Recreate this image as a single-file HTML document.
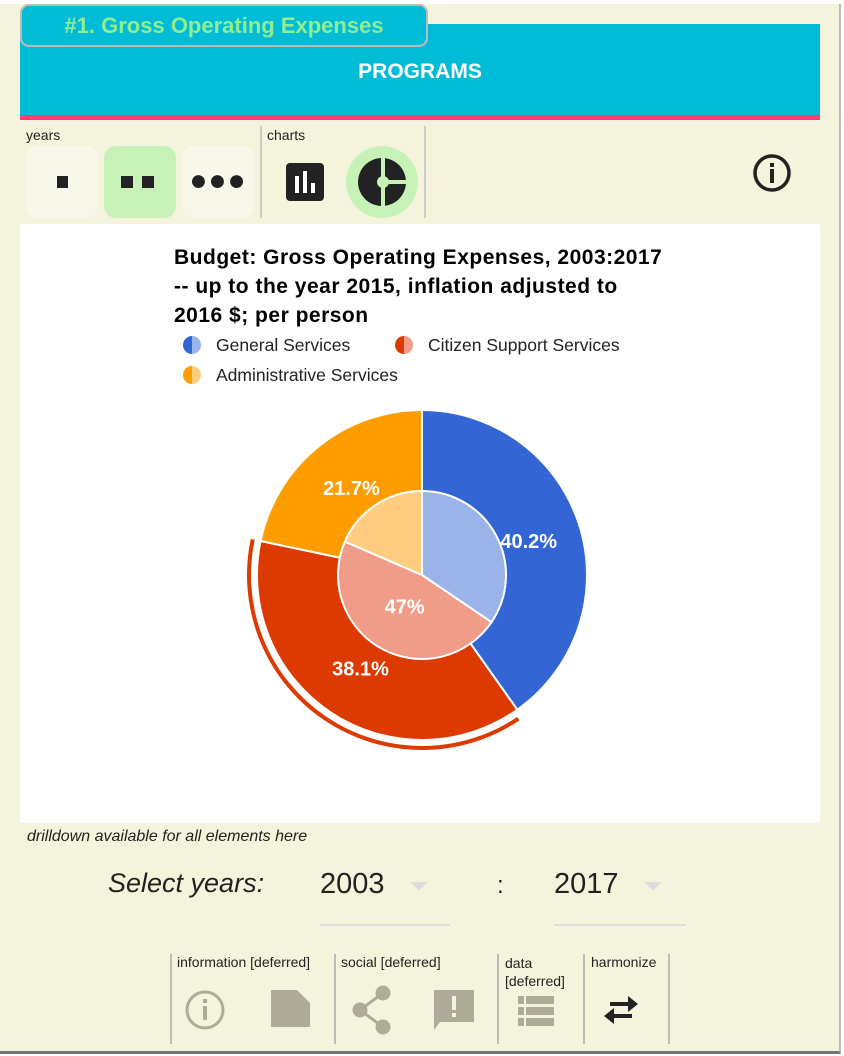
<!DOCTYPE html>
<html><head><meta charset="utf-8"><style>
*{box-sizing:border-box;margin:0;padding:0}
body{width:844px;height:1056px;background:#fff;font-family:"Liberation Sans",sans-serif;position:relative;overflow:hidden}
.abs{position:absolute}
</style></head><body>
<div class="abs" style="left:0;top:4px;width:841px;height:1050px;background:#f4f4dc;border-right:2px solid #bbb;border-bottom:3px solid #777"></div>
<div class="abs" style="left:20px;top:24px;width:800px;height:91px;background:#00bcd6"></div>
<div class="abs" style="left:20px;top:115px;width:800px;height:5px;background:#ff3c78"></div>
<div class="abs" style="left:20px;top:60px;width:800px;text-align:center;color:#fff;font-weight:bold;font-size:21px">PROGRAMS</div>
<div class="abs" style="left:20px;top:4px;width:408px;height:43px;background:#00bcd6;border:2px solid #bbb;border-radius:9px;color:#90ee90;font-weight:bold;font-size:22px;text-align:center;line-height:39px">#1. Gross Operating Expenses</div>

<div class="abs" style="left:26px;top:127px;font-size:14px;color:#222">years</div>
<div class="abs" style="left:267px;top:127px;font-size:14px;color:#222">charts</div>
<div class="abs" style="left:260px;top:126px;width:2px;height:92px;background:#ccc"></div>
<div class="abs" style="left:424px;top:126px;width:2px;height:92px;background:#ccc"></div>
<div class="abs" style="left:26px;top:146px;width:72px;height:72px;background:#f8f8ea;border-radius:12px"><div style="position:absolute;left:31px;top:30px;width:11px;height:12px;background:#222"></div></div>
<div class="abs" style="left:104px;top:146px;width:72px;height:72px;background:#c6f2b8;border-radius:12px"><div style="position:absolute;left:17px;top:30px;width:12px;height:12px;background:#222"></div><div style="position:absolute;left:38px;top:30px;width:12px;height:12px;background:#222"></div></div>
<div class="abs" style="left:182px;top:146px;width:72px;height:72px;background:#f8f8ea;border-radius:12px;text-align:center;font-size:30px;line-height:70px;color:#222;letter-spacing:1px">●●●</div>
<div class="abs" style="left:286px;top:163px;width:38px;height:38px;background:#222;border-radius:4px"><div style="position:absolute;left:9px;top:13px;width:4px;height:17px;background:#fff"></div><div style="position:absolute;left:17px;top:8px;width:4px;height:22px;background:#fff"></div><div style="position:absolute;left:25px;top:20px;width:4px;height:10px;background:#fff"></div></div>
<div class="abs" style="left:346px;top:146px;width:72px;height:72px;background:#c6f2b8;border-radius:50%">
<svg width="72" height="72"><circle cx="36" cy="36" r="24" fill="#222"/><rect x="35" y="10" width="4" height="52" fill="#c6f2b8"/><rect x="37" y="34" width="26" height="4" fill="#c6f2b8"/><circle cx="37" cy="36" r="6" fill="#c6f2b8"/></svg></div>
<div class="abs" style="left:752px;top:153px;width:40px;height:40px"><svg width="40" height="40"><circle cx="20" cy="20" r="17" fill="none" stroke="#222" stroke-width="3.5"/><rect x="18" y="16" width="4" height="14" fill="#222"/><rect x="18" y="10" width="4" height="4" fill="#222"/></svg></div>

<div class="abs" style="left:20px;top:224px;width:800px;height:599px;background:#fff"></div>
<div class="abs" style="left:174px;top:243px;font-size:21px;letter-spacing:0.5px;font-weight:bold;line-height:29px;color:#000;white-space:nowrap">Budget: Gross Operating Expenses, 2003:2017<br>-- up to the year 2015, inflation adjusted to<br>2016 $; per person</div>
<svg class="abs" style="left:0;top:0" width="844" height="1056" id="chart"></svg>

<div class="abs" style="left:27px;top:828px;font-size:16px;font-style:italic;color:#222">drilldown available for all elements here</div>
<div class="abs" style="left:108px;top:868px;font-size:27px;font-style:italic;color:#222">Select years:</div>
<div class="abs" style="left:320px;top:868px;width:130px;height:58px;border-bottom:2px solid #ddd;font-size:29px;color:#222">2003<span style="position:absolute;left:90px;top:14px;border-left:9px solid transparent;border-right:9px solid transparent;border-top:9px solid #ddd"></span></div>
<div class="abs" style="left:497px;top:872px;font-size:24px;color:#222">:</div>
<div class="abs" style="left:554px;top:868px;width:132px;height:58px;border-bottom:2px solid #ddd;font-size:29px;color:#222">2017<span style="position:absolute;left:90px;top:14px;border-left:9px solid transparent;border-right:9px solid transparent;border-top:9px solid #ddd"></span></div>

<div class="abs" style="left:170px;top:954px;width:2px;height:90px;background:#bbb"></div>
<div class="abs" style="left:334px;top:954px;width:2px;height:90px;background:#bbb"></div>
<div class="abs" style="left:497px;top:954px;width:2px;height:90px;background:#bbb"></div>
<div class="abs" style="left:583px;top:954px;width:2px;height:90px;background:#bbb"></div>
<div class="abs" style="left:668px;top:954px;width:2px;height:90px;background:#bbb"></div>
<div class="abs" style="left:177px;top:954px;font-size:14px;color:#222">information [deferred]</div>
<div class="abs" style="left:341px;top:954px;font-size:14px;color:#222">social [deferred]</div>
<div class="abs" style="left:505px;top:954px;font-size:14px;line-height:18px;color:#222">data<br>[deferred]</div>
<div class="abs" style="left:591px;top:954px;font-size:14px;color:#222">harmonize</div>
<svg class="abs" style="left:0;top:0" width="844" height="1056">
<g><circle cx="205" cy="1010" r="18" fill="none" stroke="#aeac98" stroke-width="3"/><rect x="203" y="1006" width="4" height="14" fill="#aeac98"/><rect x="203" y="999" width="4" height="4" fill="#aeac98"/></g>
<path d="M271 990 h26 l13 13 v24 h-39 z" fill="#aeac98"/>
<g fill="#aeac98" stroke="#aeac98" stroke-width="3"><line x1="383" y1="993" x2="360" y2="1010"/><line x1="360" y1="1010" x2="383" y2="1027"/><circle cx="383" cy="993" r="6"/><circle cx="360" cy="1010" r="6"/><circle cx="383" cy="1027" r="6"/></g>
<g><path d="M434 990 h40 v32 h-34 l-6 8 z" fill="#aeac98"/><rect x="452" y="996" width="4" height="14" fill="#f4f4dc"/><rect x="452" y="1013" width="4" height="4" fill="#f4f4dc"/></g>
<g fill="#aeac98"><rect x="518" y="996" width="36" height="8"/><rect x="518" y="1007" width="36" height="8"/><rect x="518" y="1018" width="36" height="8"/><rect x="524" y="996" width="2" height="30" fill="#f4f4dc"/></g>
<g fill="#222"><rect x="610" y="1002" width="20" height="4"/><path d="M628 996 l10 8 -10 8z"/><rect x="612" y="1014" width="20" height="4"/><path d="M614 1008 l-10 8 10 8z"/></g>
</svg>

<script>
const categories=["General Services","Citizen Support Services","Administrative Services"];
const outerValues=[40.2,38.1,21.7];
const innerValues=[34.5,47,18.5];
const outerLabels=["40.2%","38.1%","21.7%"];
const innerLabels=["","47%",""];
const outerColors=["#3366d4","#dc3a00","#ff9c00"];
const innerColors=["#9ab3e8","#f09c88","#ffcc80"];
const highlightIndex=1;
const NS="http://www.w3.org/2000/svg";
const svg=document.getElementById("chart");
const cx=422,cy=575,R=165,r=84;
function pt(frac,rad){const a=frac*2*Math.PI;return [cx+rad*Math.sin(a),cy-rad*Math.cos(a)];}
function mk(tag,attrs){const e=document.createElementNS(NS,tag);for(const k in attrs)e.setAttribute(k,attrs[k]);svg.appendChild(e);return e;}
function sector(f0,f1,rad){const p0=pt(f0,rad),p1=pt(f1,rad);const lg=(f1-f0)>0.5?1:0;return `M${cx},${cy}L${p0[0]},${p0[1]}A${rad},${rad} 0 ${lg} 1 ${p1[0]},${p1[1]}Z`;}
function ring(values,rad,colors,nm){
 const tot=values.reduce((a,b)=>a+b,0);let acc=0;
 values.forEach((v,i)=>{const f0=acc/tot,f1=(acc+v)/tot;acc+=v;
  const p=mk("path",{d:sector(f0,f1,rad),fill:colors[i],stroke:"#fff","stroke-width":2});
  
  
  if(nm==="outer"&&i===highlightIndex){const a=pt(f0+0.004,R+8),b=pt(f1,R+8);const h=mk("path",{d:`M${a[0]},${a[1]}A${R+8},${R+8} 0 0 1 ${b[0]},${b[1]}`,fill:"none",stroke:colors[i],"stroke-width":4});
  
  }
 });
}
function labels(values,lbls,lr,nm){
 const tot=values.reduce((a,b)=>a+b,0);let acc=0;
 values.forEach((v,i)=>{const f0=acc/tot,f1=(acc+v)/tot;acc+=v;
  if(lbls[i]){const c=pt((f0+f1)/2,lr);const t=mk("text",{x:c[0],y:c[1]+7,"text-anchor":"middle",fill:"#fff","font-size":20,"font-weight":"bold","font-family":"Liberation Sans, sans-serif"});t.textContent=lbls[i];
  
  }
 });
}
ring(outerValues,R,outerColors,"outer");
ring(innerValues,r,innerColors,"inner");
labels(outerValues,outerLabels,112,"outer");
labels(innerValues,innerLabels,36,"inner");
const legPos=[[184,345],[396,345],[184,375]];
categories.forEach((c,i)=>{const [x,y]=legPos[i];
 const g=mk("g",{});
 
 
 const l=document.createElementNS(NS,"path");l.setAttribute("d",`M${x+8},${y-9}A9,9 0 0 0 ${x+8},${y+9}Z`);l.setAttribute("fill",outerColors[i]);g.appendChild(l);
 const rr=document.createElementNS(NS,"path");rr.setAttribute("d",`M${x+8},${y-9}A9,9 0 0 1 ${x+8},${y+9}Z`);rr.setAttribute("fill",innerColors[i]);g.appendChild(rr);
 const t=document.createElementNS(NS,"text");t.setAttribute("x",x+32);t.setAttribute("y",y+6);t.setAttribute("font-size",17.5);t.setAttribute("fill","#222");t.setAttribute("font-family","Liberation Sans, sans-serif");t.textContent=c;g.appendChild(t);
});
</script>
</body></html>
